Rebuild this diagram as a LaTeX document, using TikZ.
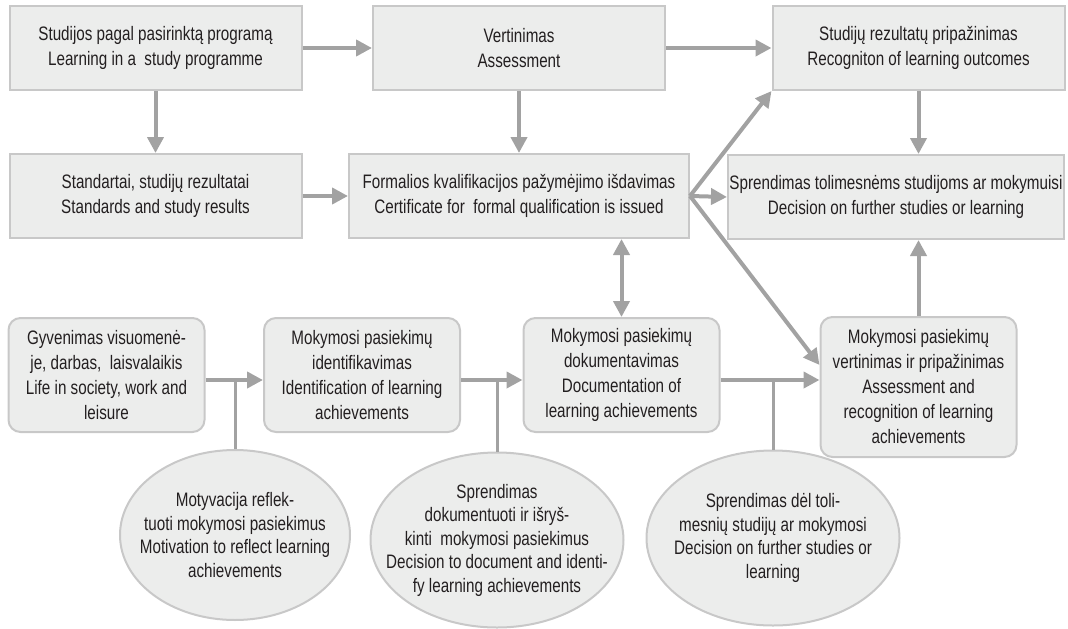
\documentclass[tikz,border=0pt]{standalone}
\usepackage{fontspec}
\setmainfont[FakeStretch=0.78]{Liberation Sans}
\usetikzlibrary{arrows.meta,shapes.geometric}

\definecolor{boxfill}{HTML}{ECEDEC}
\definecolor{boxline}{HTML}{C8C8C8}
\definecolor{arrowgray}{HTML}{A2A2A2}
\definecolor{textgray}{HTML}{231F20}

\begin{document}
\begin{tikzpicture}[x=1pt, y=-1pt,
        box/.style={draw=boxline, line width=2pt, fill=boxfill, text=textgray, align=center,
            inner sep=0pt, font=\fontsize{19.5}{25}\selectfont},
        sqbox/.style={box, minimum width=292pt, minimum height=84pt},
        rbox/.style={box, rounded corners=12pt, minimum width=196pt, minimum height=114pt},
        oval/.style={box, ellipse, minimum width=253pt, minimum height=175pt},
        ovaltext/.style={text=textgray, align=center, inner sep=0pt, font=\fontsize{19.5}{23.5}\selectfont},
        arr/.style={draw=arrowgray, line width=4pt, -{Triangle[length=16pt,width=16pt]}},
        darr/.style={arr, {Triangle[length=16pt,width=16pt]}-{Triangle[length=16pt,width=16pt]}},
        tick/.style={draw=arrowgray, line width=3pt}]
            \useasboundingbox (0,0) rectangle (1068,629);

            % formal path
            \node[sqbox] (stud) at (155.5,48) {Studijos pagal pasirinktą programą\\Learning in a~ study programme};
            \node[sqbox] (vert) at (519,48) {Vertinimas\\Assessment};
            \node[sqbox] (pripaz) at (918.5,48) {Studijų rezultatų pripažinimas\\Recogniton of learning outcomes};
            \node[sqbox] (stand) at (155.5,196) {Standartai, studijų rezultatai\\Standards and study results};
            \node[sqbox, minimum width=340pt] (formal) at (519,196) {Formalios kvalifikacijos pažymėjimo išdavimas\\Certificate for~ formal qualification is issued};
            \node[sqbox, minimum width=336pt] (tolim) at (896,197) {Sprendimas tolimesnėms studijoms ar mokymuisi\\Decision on further studies or learning};

            % non-formal path
            \node[rbox] (gyven) at (106.5,375) {Gyvenimas visuomenė-\\je, darbas,~ laisvalaikis\\Life in society, work and\\leisure};
            \node[rbox] (ident) at (362,375) {Mokymosi pasiekimų\\identifikavimas\\Identification of learning\\achievements};
            \node[rbox] (dokum) at (621.5,375) {Mokymosi pasiekimų\\dokumentavimas\\Documentation of\\learning achievements};
            \node[rbox, minimum height=140pt] (pripvert) at (918.5,387) {Mokymosi pasiekimų\\vertinimas ir pripažinimas\\Assessment and\\recognition of learning\\achievements};

            \node[oval, minimum width=230pt, minimum height=170pt,
                label={[ovaltext]center:{Motyvacija reflek-\\tuoti mokymosi pasiekimus\\Motivation to reflect learning\\achievements}}] (motyv) at (235,535) {};
            \node[oval,
                label={[ovaltext]center:{Sprendimas\\dokumentuoti ir išryš-\\kinti~ mokymosi pasiekimus\\Decision to document and identi-\\fy learning achievements}}] (sprdok) at (497,540) {};
            \node[oval,
                label={[ovaltext]center:{Sprendimas dėl toli-\\mesnių studijų ar mokymosi\\Decision on further studies or\\learning}}] (sprtol) at (773,538) {};

            % arrows
            \draw[arr] (stud) -- (vert);
            \draw[arr] (vert) -- (pripaz);
            \draw[arr] (stud) -- (stand);
            \draw[arr] (vert) -- (formal);
            \draw[arr] (stand) -- (formal);
            \draw[arr] (pripaz.south) -- (pripaz.south |- tolim.north);
            \draw[arr] (formal.east) -- (pripaz.south west);
            \draw[arr] (formal.east) -- (tolim.west);
            \draw[arr] (formal.east) -- ([yshift=22pt]pripvert.west);
            \draw[darr] (dokum.north) -- (dokum.north |- formal.south);
            \draw[arr] (pripvert.north) -- (pripvert.north |- tolim.south);

            \coordinate (ly) at (0,380);
            \draw[tick] (motyv.north) -- (motyv.north |- ly);
            \draw[tick] (sprdok.north) -- (sprdok.north |- ly);
            \draw[tick] (sprtol.north) -- (sprtol.north |- ly);
            \draw[arr] (gyven.east |- ly) -- (ident.west |- ly);
            \draw[arr] (ident.east |- ly) -- (dokum.west |- ly);
            \draw[arr] (dokum.east |- ly) -- (pripvert.west |- ly);
\end{tikzpicture}
\end{document}
